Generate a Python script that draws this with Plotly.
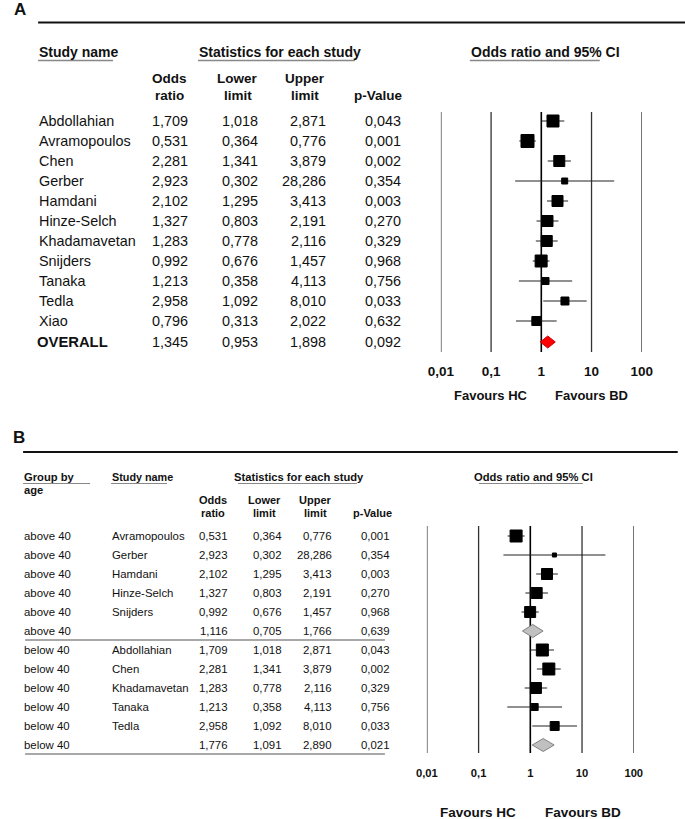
import plotly.graph_objects as go
import numpy as np

W, H = 685, 819

# ---------------- data ----------------
studies = ["Abdollahian", "Avramopoulos", "Chen", "Gerber", "Hamdani", "Hinze-Selch",
           "Khadamavetan", "Snijders", "Tanaka", "Tedla", "Xiao"]
odds_ratio = [1.709, 0.531, 2.281, 2.923, 2.102, 1.327, 1.283, 0.992, 1.213, 2.958, 0.796]
lower_limit = [1.018, 0.364, 1.341, 0.302, 1.295, 0.803, 0.778, 0.676, 0.358, 1.092, 0.313]
upper_limit = [2.871, 0.776, 3.879, 28.286, 3.413, 2.191, 2.116, 1.457, 4.113, 8.010, 2.022]
p_values = [0.043, 0.001, 0.002, 0.354, 0.003, 0.270, 0.329, 0.968, 0.756, 0.033, 0.632]
overall_stats = [1.345, 0.953, 1.898, 0.092]

above_40 = ["Avramopoulos", "Gerber", "Hamdani", "Hinze-Selch", "Snijders"]
below_40 = ["Abdollahian", "Chen", "Khadamavetan", "Tanaka", "Tedla"]
group_labels = ["above 40", "below 40"]
subgroup_or = [1.116, 1.776]
subgroup_lower = [0.705, 1.091]
subgroup_upper = [1.766, 2.890]
subgroup_p = [0.639, 0.021]

tick_vals = [0.01, 0.1, 1, 10, 100]
tick_text = ["0,01", "0,1", "1", "10", "100"]

# marker side length (px) – relative study weight as drawn
box_A = [13, 14, 12, 7, 12, 12, 12, 13, 8, 9, 10]
box_B = {"Avramopoulos": 13, "Gerber": 5, "Hamdani": 12, "Hinze-Selch": 12, "Snijders": 12,
         "Abdollahian": 13, "Chen": 13, "Khadamavetan": 12, "Tanaka": 8, "Tedla": 10}

# ---------------- helpers ----------------
BODY = "Liberation Sans, Arial, sans-serif"
HEAD = "Liberation Sans Narrow, Arial Narrow, Liberation Sans, Arial, sans-serif"

# horizontal calibration of the capture (observed: screen_x = X0 + SX * page_x)
X0, SX = 12.9, 0.9655


def fmt(v):
    return f"{v:.3f}".replace(".", ",")


def px(x):
    """target screen x (px) -> paper fraction"""
    return ((x - X0) / SX) / W


annotations = []
shapes = []


def text(x, y, s, size, anchor="left", bold=False, family=BODY, color="#111"):
    annotations.append(dict(
        x=px(x), y=y, xref="paper", yref="y", text=s, showarrow=False,
        xanchor=anchor, yanchor="middle", borderpad=0,
        font=dict(family=family, size=size, color=color, weight="bold" if bold else "normal"),
    ))


def hline(x0, x1, y, color, width):
    shapes.append(dict(type="line", xref="paper", yref="y", x0=px(x0), x1=px(x1),
                       y0=y, y1=y, line=dict(color=color, width=width)))


fig = go.Figure()

# ================= Panel A =================
text(13, 9, "A", 17, bold=True)
hline(38, 690, 22.5, "#111", 2)

text(38, 52, "Study name", 14, bold=True, family=HEAD)
hline(38, 113, 60.5, "#888", 1.5)
text(198, 52, "Statistics for each study", 14, bold=True, family=HEAD)
hline(198, 355, 60.5, "#888", 1.5)
text(470, 52, "Odds ratio and 95% CI", 14, bold=True, family=HEAD)
hline(470, 600, 60.5, "#888", 1.5)

for cxh, l1, l2 in [(169, "Odds", "ratio"), (238, "Lower", "limit"), (305, "Upper", "limit")]:
    text(cxh, 78, l1, 13.5, anchor="center", bold=True, family=HEAD)
    text(cxh, 95, l2, 13.5, anchor="center", bold=True, family=HEAD)
text(379, 95, "p-Value", 13.5, anchor="center", bold=True, family=HEAD)

colA = [189, 259, 327, 402]
rowsA = [121 + 20 * i for i in range(len(studies))]
for i, s in enumerate(studies):
    y = rowsA[i]
    text(38, y, s, 14.4)
    for xr, v in zip(colA, [odds_ratio[i], lower_limit[i], upper_limit[i], p_values[i]]):
        text(xr, y, fmt(v), 14.4, anchor="right")
yO = 342
text(36, yO, "OVERALL", 14.8, bold=True)
for xr, v in zip(colA, overall_stats):
    text(xr, yO, fmt(v), 14.4, anchor="right")

# reference lines A
for v in tick_vals:
    fig.add_trace(go.Scatter(x=[v, v], y=[112, 352], mode="lines", xaxis="x", yaxis="y",
                             line=dict(color="#000" if v == 1 else "#333",
                                       width=1.6 if v == 1 else 1.3),
                             hoverinfo="skip"))
cx, cy = [], []
for i in range(len(studies)):
    cx += [lower_limit[i], upper_limit[i], None]
    cy += [rowsA[i], rowsA[i], None]
fig.add_trace(go.Scatter(x=cx, y=cy, mode="lines", xaxis="x", yaxis="y",
                         line=dict(color="#222", width=1.2), hoverinfo="skip"))
fig.add_trace(go.Scatter(x=odds_ratio, y=rowsA, mode="markers", xaxis="x", yaxis="y",
                         opacity=1,
                         marker=dict(symbol="square", size=[b - 1 for b in box_A], color="#000",
                                     opacity=1, line=dict(width=1, color="#000")),
                         cliponaxis=False))
o, lo, up, _ = overall_stats
fig.add_trace(go.Scatter(x=[lo, o, up, o, lo], y=[yO, yO - 6, yO, yO + 6, yO],
                         mode="lines", fill="toself", fillcolor="#ff0000",
                         line=dict(color="#cc0000", width=1), xaxis="x", yaxis="y",
                         hoverinfo="skip"))

text(491, 395, "Favours HC", 13, anchor="center", bold=True)
text(592, 395, "Favours BD", 13, anchor="center", bold=True)

# ================= Panel B =================
text(12, 437, "B", 17, bold=True)
hline(23, 678, 452, "#111", 2)

text(23, 477, "Group by", 11.2, bold=True, family=HEAD)
text(23, 490, "age", 11.2, bold=True, family=HEAD)
hline(23, 90, 483.5, "#888", 1.2)
text(111, 477, "Study name", 10.8, bold=True, family=HEAD)
hline(111, 167, 483.5, "#888", 1.2)
text(233, 477, "Statistics for each study", 11.2, bold=True, family=HEAD)
hline(238, 357, 483.5, "#888", 1.2)
text(473, 477, "Odds ratio and 95% CI", 11.2, bold=True, family=HEAD)
hline(479, 583, 483.5, "#888", 1.2)

for cxh, l1, l2 in [(213, "Odds", "ratio"), (265, "Lower", "limit"), (316, "Upper", "limit")]:
    text(cxh, 500, l1, 11, anchor="center", bold=True, family=HEAD)
    text(cxh, 513, l2, 11, anchor="center", bold=True, family=HEAD)
text(373, 513, "p-Value", 11, anchor="center", bold=True, family=HEAD)

colB = [229, 283, 333, 391]
rowB = 536
step = 19
xB, yB, sB = [], [], []
ciBx, ciBy = [], []
diamonds = []
for g, members in enumerate([above_40, below_40]):
    for s in members:
        i = studies.index(s)
        y = rowB
        text(23, y, group_labels[g], 11.4)
        text(111, y, s, 11.4)
        for xr, v in zip(colB, [odds_ratio[i], lower_limit[i], upper_limit[i], p_values[i]]):
            text(xr, y, fmt(v), 11.4, anchor="right")
        xB.append(odds_ratio[i]); yB.append(y); sB.append(box_B[s] - 1)
        ciBx += [lower_limit[i], upper_limit[i], None]
        ciBy += [y, y, None]
        rowB += step
    y = rowB
    text(23, y, group_labels[g], 11.4)
    for xr, v in zip(colB, [subgroup_or[g], subgroup_lower[g], subgroup_upper[g], subgroup_p[g]]):
        text(xr, y, fmt(v), 11.4, anchor="right")
    diamonds.append((subgroup_or[g], subgroup_lower[g], subgroup_upper[g], y))
    hline(25, 385, y + 9, "#a8a8a8", 2)
    rowB += step

for v in tick_vals:
    fig.add_trace(go.Scatter(x=[v, v], y=[526, 753], mode="lines", xaxis="x2", yaxis="y",
                             line=dict(color="#000" if v == 1 else "#333",
                                       width=1.6 if v == 1 else 1.3),
                             hoverinfo="skip"))
fig.add_trace(go.Scatter(x=ciBx, y=ciBy, mode="lines", xaxis="x2", yaxis="y",
                         line=dict(color="#222", width=1.1), hoverinfo="skip"))
fig.add_trace(go.Scatter(x=xB, y=yB, mode="markers", xaxis="x2", yaxis="y", opacity=1,
                         marker=dict(symbol="square", size=sB, color="#000", opacity=1,
                                     line=dict(width=1, color="#000")),
                         cliponaxis=False))
for o, lo, up, y in diamonds:
    fig.add_trace(go.Scatter(x=[lo, o, up, o, lo], y=[y, y - 6.5, y, y + 6.5, y],
                             mode="lines", fill="toself", fillcolor="#c0c0c0",
                             line=dict(color="#808080", width=1), xaxis="x2", yaxis="y",
                             hoverinfo="skip"))

text(478, 812, "Favours HC", 13.5, anchor="center", bold=True)
text(583, 812, "Favours BD", 13.5, anchor="center", bold=True)

# ---------------- layout ----------------
fig.update_layout(
    width=W, height=H, margin=dict(l=0, r=0, t=0, b=0), autosize=False,
    paper_bgcolor="white", plot_bgcolor="rgba(0,0,0,0)", showlegend=False,
    annotations=annotations, shapes=shapes,
    yaxis=dict(range=[H, 0], domain=[0, 1], visible=False, fixedrange=True),
    xaxis=dict(type="log", range=[-2, 2], domain=[px(441), px(642)], anchor="free",
               position=1 - 361 / H, showgrid=False, zeroline=False, showline=False,
               ticks="", tickvals=tick_vals, ticktext=tick_text, fixedrange=True,
               tickfont=dict(family=BODY, size=13.5, color="#111", weight="bold")),
    xaxis2=dict(type="log", range=[-2, 2], domain=[px(427), px(634)], anchor="free",
                position=1 - 765 / H, showgrid=False, zeroline=False, showline=False,
                ticks="", tickvals=tick_vals, ticktext=tick_text, fixedrange=True,
                tickfont=dict(family=BODY, size=11.2, color="#111", weight="bold")),
)

fig.write_html(
    "out.html",
    config={"displayModeBar": False, "responsive": False},
    post_script=("document.body.style.margin='0';"
                 "document.body.style.overflow='hidden';"
                 "document.documentElement.style.overflow='hidden';"),
)
